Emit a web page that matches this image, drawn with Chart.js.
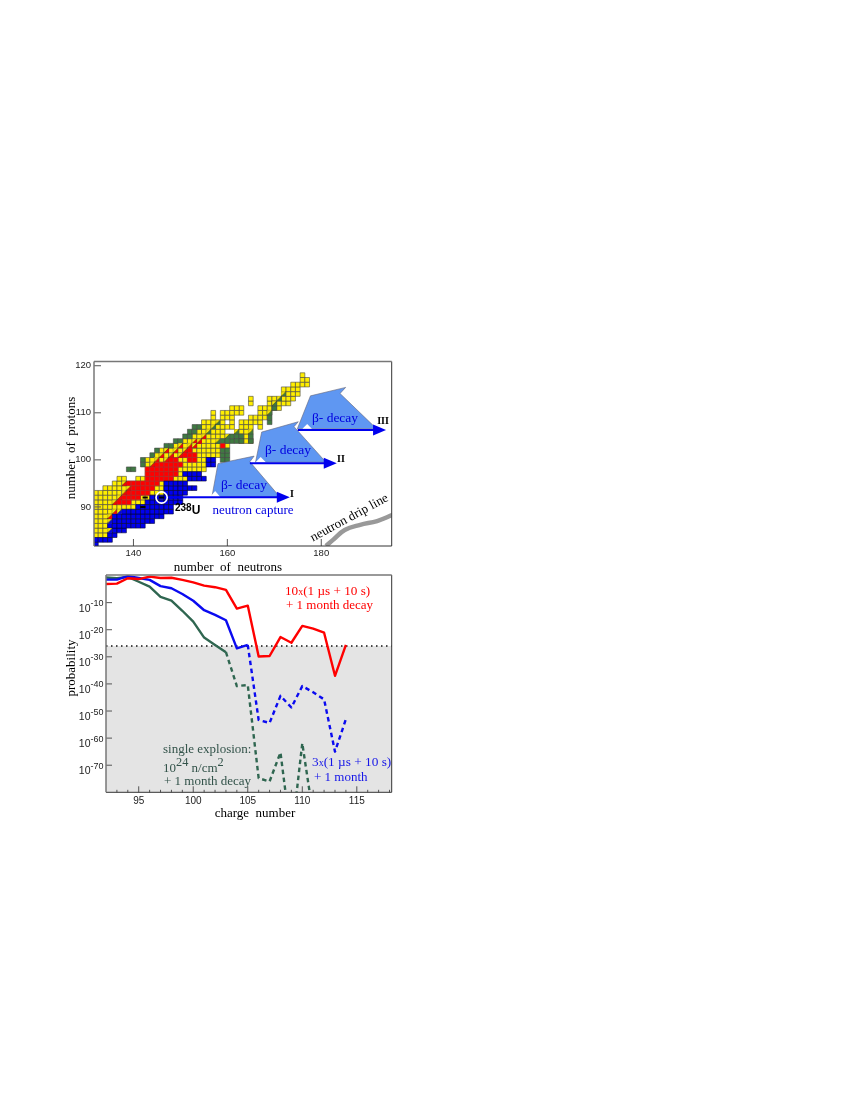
<!DOCTYPE html>
<html lang="en">
<head>
<meta charset="UTF-8">
<title>Nuclide chart and probability</title>
<script src="https://cdn.jsdelivr.net/npm/chart.js"></script>
<style>
    body { margin: 0; background: #fff; width: 850px; height: 1100px; position: relative; overflow: hidden; }
    canvas { position: absolute; }
    .t { position: absolute; font-family: "Liberation Serif", serif; white-space: nowrap; line-height: 1; }
    .t sup { font-size: 0.95em; line-height: 0; vertical-align: 0.45em; }
</style>
</head>
<body>
<canvas id="nuclides" width="370" height="220" style="left:40px;top:350px"></canvas>
<canvas id="probability" width="350" height="250" style="left:60px;top:565px"></canvas>

<span class="t" style="left:70px;top:448px;font-size:13px;transform:translate(-50%,-50%) rotate(-90deg)">number&nbsp; of&nbsp; protons</span>
<span class="t" style="left:228px;top:566px;font-size:13px;transform:translate(-50%,-50%)">number&nbsp; of&nbsp; neutrons</span>
<span class="t" style="left:244px;top:485px;font-size:13.5px;color:#0000e0;transform:translate(-50%,-50%)">β- decay</span>
<span class="t" style="left:288px;top:450px;font-size:13.5px;color:#0000e0;transform:translate(-50%,-50%)">β- decay</span>
<span class="t" style="left:335px;top:418px;font-size:13.5px;color:#0000e0;transform:translate(-50%,-50%)">β- decay</span>
<span class="t" style="left:253px;top:509px;font-size:13px;color:#0000e0;transform:translate(-50%,-50%)">neutron capture</span>
<span class="t" style="left:292px;top:494px;font-size:10px;font-weight:bold;transform:translate(-50%,-50%)">I</span>
<span class="t" style="left:341px;top:459px;font-size:10px;font-weight:bold;transform:translate(-50%,-50%)">II</span>
<span class="t" style="left:383px;top:421px;font-size:10px;font-weight:bold;transform:translate(-50%,-50%)">III</span>
<span class="t" style="left:175px;top:501px;font-family:'Liberation Sans';font-size:10px;font-weight:bold">238<span style="font-size:12px;position:relative;top:3px">U</span></span>
<span class="t" style="left:349px;top:517px;font-size:13px;transform:translate(-50%,-50%) rotate(-28.6deg)">neutron drip line</span>

<span class="t" style="left:70px;top:668px;font-size:13px;transform:translate(-50%,-50%) rotate(-90deg)">probability</span>
<span class="t" style="left:255px;top:812px;font-size:13px;transform:translate(-50%,-50%)">charge&nbsp; number</span>
<span class="t" style="left:285px;top:584px;font-size:13.2px;color:#f00">10<span style="font-size:10px">x</span>(1 µs + 10 s)</span>
<span class="t" style="left:286px;top:598px;font-size:13px;color:#f00">+ 1 month decay</span>
<span class="t" style="left:312px;top:755px;font-size:13.3px;color:#1515e8">3<span style="font-size:10px">x</span>(1 µs + 10 s)</span>
<span class="t" style="left:314px;top:770px;font-size:13px;color:#1515e8">+ 1 month</span>
<span class="t" style="left:163px;top:742px;font-size:13px;color:#33534a">single explosion:</span>
<span class="t" style="left:163px;top:761px;font-size:13px;color:#33534a">10<sup>24</sup> n/cm<sup>2</sup></span>
<span class="t" style="left:164px;top:774px;font-size:13px;color:#33534a">+ 1 month decay</span>

<script>
// nuclide map, each row is [protons, first neutron number, last neutron number]
const yellowRows = [
    [84,132,134],[85,132,135],[86,132,134],[87,132,134],[88,132,135],[89,132,137],[90,132,140],
    [91,132,142],[92,132,144],[93,132,146],[94,134,147],[95,136,146],[96,137,138],[96,141,151],
    [97,143,150],[98,143,155],[99,143,155],[100,143,156],[101,145,158],[102,146,158],[103,149,160],
    [104,151,158],[105,153,160],[106,154,159],[107,155,161],[108,155,159],[108,161,161],[109,157,157],
    [109,159,161],[110,157,157],[110,159,161],[110,163,163],[111,161,161],[111,163,163],
    [104,163,165],[105,164,164],[106,163,165],[107,163,165],[107,167,167],[108,163,167],[109,165,168],
    [110,167,169],[111,167,171],[110,162,162],[111,162,162],[112,165,165],[113,165,165],[112,169,173],
    [113,169,174],[114,172,175],[115,172,175],[116,174,177],[117,176,177],[118,176,176]
];
const greenRows = [
    [98,139,140],[99,142,142],[100,142,142],[101,144,144],[102,145,145],[103,147,148],[104,149,150],[105,151,152],
    [106,152,153],[107,153,154],[100,159,160],[101,159,160],[102,159,160],[104,159,161],[105,161,163],
    [104,162,163],[104,165,165],[105,165,165],[108,169,169],[109,169,169],[110,169,169],[111,170,170],
    [112,170,170]
];
const redRows = [
    [91,137,139],[92,138,141],[93,139,143],[94,140,144],[95,139,145],[96,143,148],
    [97,143,149],[98,143,149],[99,145,150],[100,147,149],[100,152,153],[101,151,153],[102,152,152],[103,159,159]
];
const blueRows = [
    [82,132,132],[83,132,135],[84,135,136],[85,136,138],[86,135,142],[87,135,144],[88,136,146],
    [89,138,148],[90,141,148],[91,143,150],[92,144,150],[93,147,151],[94,147,153],[95,147,151],
    [96,152,155],[97,151,154],[99,156,157],[100,156,157]
];
const yellowRedCells = [
    [135,88],[136,89],[136,91],[137,92],[138,93],[139,94],[138,95],
    [144,99],[145,100],[146,101],[147,102],[147,100],[148,101],[149,102],[150,103],
    [150,101],[151,102],[152,103],[153,104],[153,103],[154,104],[155,105]
];
const yellowGreenCells = [
    [156,106],[157,107],[158,108],[158,104],[160,105],[162,106],[170,112],[171,113],[172,114],[169,110],[165,106]
];
const yellowBlueCells = [[135,85],[135,87],[137,89]];
const blackCells = [[142.5,92],[142,90],[146,92]];

const neutronTicks = [140, 160, 180];
const protonTicks = [90, 100, 110, 120];
const dripLineN = [181, 182.5, 185, 188.3, 191.9, 195.2];
const dripLineZ = [81.7, 83, 85.1, 86.2, 87, 88.3];

// beta decay shapes and neutron capture arrows, in neutron/proton units
const decayShapes = [
    [[156.7,92.1],[158.0,99.2],[165.7,100.8],[164.8,99.6],[171.2,92.1]],
    [[166,99.5],[167.3,105.9],[175.1,108.1],[174.2,107.05],[181,99.5]],
    [[174.9,106.6],[177.7,113.6],[185.2,115.4],[184,114.1],[191.8,106.6]]
];
const whiteNotches = [
    [[156.3,92.1],[157.4,93.4],[158.5,92.1]],
    [[166,99.5],[167.1,100.6],[168.2,99.5]],
    [[176,106.6],[177,107.6],[178,106.6]]
];
const captureArrows = [[147.4,173.3,92.05],[164.8,183.3,99.3],[175,193.8,106.35]];
const uraniumCell = [146, 92];

// probability panel, values are log10 of the probability
const charge = [92,93,94,95,96,97,98,99,100,101,102,103,104,105,106,107,108,109,110,111,112,113,114];
const redLog = [-3.1,-3,-1,-1.3,-0.4,-0.9,-0.8,-1.6,-2.5,-3.7,-4.3,-5.3,-12.2,-11.1,-29.9,-29.7,-22.7,-24.8,-18.6,-19.6,-21.1,-37,-25.6];
const blueLog = [-1.5,-1.5,-0.2,-0.9,-1.6,-3.9,-4.7,-6.8,-9.3,-12.8,-14.5,-16.5,-26.9,-25.6,-53.3,-54.4,-44.4,-48.7,-40.8,-43.1,-45.7,-65,-53];
const greenLog = [-0.7,-1,-0.5,-2.3,-4.1,-7.9,-9.3,-13,-17,-22.9,-25.6,-28.3,-40.8,-40.4,-74.8,-76,-65.3,-97,-61.9,-88.6];
const thresholdLog = -26;
const blueDashFrom = 105;
const greenDashFrom = 103;
const chargeTicks = [95, 100, 105, 110, 115];
const chargeMinorTicks = [93,94,96,97,98,99,101,102,103,104,106,107,108,109,111,112,113,114,116,117,118];
const logTicks = [-10,-20,-30,-40,-50,-60,-70];

const CELL = 4.7;
const YELLOW = '#ffee00', RED = '#ff0000', BLUE = '#0000ee', GREEN = '#3f7a42';

function cellsFrom(rows) {
    const out = [];
    rows.forEach(r => { for (let n = r[1]; n <= r[2]; n++) out.push({ x: n, y: r[0] }); });
    return out;
}

function squares(rows, color, edge, order) {
    return {
        type: 'scatter', order, data: cellsFrom(rows), pointStyle: 'rect', pointRadius: CELL / Math.SQRT2,
        pointHoverRadius: CELL / Math.SQRT2, backgroundColor: color, borderColor: edge, pointBorderWidth: 0.6
    };
}

// cell cut by a "/" diagonal, used as a point image
function splitCell(upper, lower) {
    const c = document.createElement('canvas');
    c.width = 5; c.height = 5;
    const g = c.getContext('2d');
    g.fillStyle = upper; g.fillRect(0, 0, 5, 5);
    g.fillStyle = lower;
    g.beginPath(); g.moveTo(5, 0); g.lineTo(5, 5); g.lineTo(0, 5); g.closePath(); g.fill();
    g.strokeStyle = '#444'; g.lineWidth = 0.5;
    g.strokeRect(0, 0, 5, 5);
    g.strokeStyle = '#222';
    g.beginPath(); g.moveTo(0, 5); g.lineTo(5, 0); g.stroke();
    return c;
}

function splits(cells, upper, lower) {
    return {
        type: 'scatter', order: 2, data: cells.map(c => ({ x: c[0], y: c[1] })),
        pointStyle: splitCell(upper, lower), pointRadius: 3
    };
}

function drawFrame(chart, major, minor, majorLen, minorLen) {
    const { ctx, chartArea: a, scales } = chart;
    ctx.save();
    ctx.strokeStyle = '#555';
    ctx.lineWidth = 1;
    major.x.forEach(v => { const p = scales.x.getPixelForValue(v); line(ctx, p, a.bottom, p, a.bottom - majorLen); });
    major.y.forEach(v => { const p = scales.y.getPixelForValue(v); line(ctx, a.left, p, a.left + majorLen, p); });
    minor.forEach(v => { const p = scales.x.getPixelForValue(v); line(ctx, p, a.bottom, p, a.bottom - minorLen); });
    ctx.strokeStyle = '#333';
    line(ctx, a.right, a.top, a.right, a.bottom);
    line(ctx, a.left, a.bottom, a.right, a.bottom);
    ctx.strokeStyle = '#777';
    ctx.lineWidth = 1.5;
    line(ctx, a.left, a.bottom, a.left, a.top);
    line(ctx, a.left, a.top, a.right, a.top);
    ctx.restore();
}

function line(ctx, x1, y1, x2, y2) {
    ctx.beginPath(); ctx.moveTo(x1, y1); ctx.lineTo(x2, y2); ctx.stroke();
}

function polygon(ctx, chart, pts) {
    ctx.beginPath();
    pts.forEach((p, i) => {
        const x = chart.scales.x.getPixelForValue(p[0]), y = chart.scales.y.getPixelForValue(p[1]);
        if (i) ctx.lineTo(x, y); else ctx.moveTo(x, y);
    });
    ctx.closePath();
}

const nuclideOverlay = {
    id: 'nuclideOverlay',
    afterDatasetsDraw(chart) {
        const { ctx, scales } = chart;
        ctx.save();
        decayShapes.forEach(s => {
            polygon(ctx, chart, s);
            ctx.fillStyle = '#5f97f2'; ctx.fill();
            ctx.strokeStyle = '#667'; ctx.lineWidth = 0.6; ctx.stroke();
        });
        whiteNotches.forEach(s => { polygon(ctx, chart, s); ctx.fillStyle = '#fff'; ctx.fill(); });
        captureArrows.forEach(a => {
            const x1 = scales.x.getPixelForValue(a[0]), x2 = scales.x.getPixelForValue(a[1]), y = scales.y.getPixelForValue(a[2]);
            ctx.strokeStyle = '#0000ee'; ctx.lineWidth = 2;
            line(ctx, x1, y, x2 - 10, y);
            ctx.fillStyle = '#0000ee';
            ctx.beginPath(); ctx.moveTo(x2, y); ctx.lineTo(x2 - 13, y - 5.5); ctx.lineTo(x2 - 13, y + 5.5); ctx.closePath(); ctx.fill();
        });
        // ring round 238U
        ctx.strokeStyle = '#fff'; ctx.lineWidth = 1.6;
        ctx.beginPath();
        ctx.arc(scales.x.getPixelForValue(uraniumCell[0]), scales.y.getPixelForValue(uraniumCell[1]), 5.6, 0, Math.PI * 2);
        ctx.stroke();
        ctx.restore();
    },
    afterDraw(chart) {
        drawFrame(chart, { x: neutronTicks, y: protonTicks }, [], 7, 0);
    }
};

const probabilityOverlay = {
    id: 'probabilityOverlay',
    afterDraw(chart) {
        const { ctx, scales } = chart;
        drawFrame(chart, { x: chargeTicks, y: logTicks }, chargeMinorTicks, 6, 2.5);
        // tick labels with a raised exponent
        ctx.save();
        ctx.fillStyle = '#222';
        ctx.textBaseline = 'alphabetic';
        ctx.textAlign = 'right';
        logTicks.forEach(v => {
            const y = scales.y.getPixelForValue(v);
            ctx.font = '9px "Liberation Sans"';
            ctx.fillText(String(v), 43.5, y + 3.5);
            const w = ctx.measureText(String(v)).width;
            ctx.font = '10.5px "Liberation Sans"';
            ctx.fillText('10', 43.5 - w, y + 9);
        });
        ctx.restore();
    }
};

new Chart(document.getElementById('nuclides'), {
    data: {
        datasets: [
            { type: 'line', order: 0, data: dripLineN.map((n, i) => ({ x: n, y: dripLineZ[i] })), borderColor: '#999', borderWidth: 4.5, tension: 0.4, pointRadius: 0 },
            squares(yellowRows, YELLOW, '#444', 6),
            squares(greenRows, GREEN, '#444', 5),
            squares(redRows, RED, '#a33', 4),
            squares(blueRows, BLUE, '#003', 3),
            splits(yellowRedCells, YELLOW, RED),
            splits(yellowGreenCells, YELLOW, GREEN),
            splits(yellowBlueCells, YELLOW, BLUE),
            { type: 'scatter', order: 1, data: blackCells.map(c => ({ x: c[0], y: c[1] })), pointStyle: 'line', pointRadius: 2.6, borderColor: '#000', pointBorderWidth: 2 }
        ]
    },
    options: {
        responsive: false, animation: false, events: [],
        layout: { padding: { left: 0, top: 11.5, right: 18.3, bottom: 0 } },
        plugins: { legend: { display: false }, tooltip: { enabled: false } },
        scales: {
            x: {
                type: 'linear', min: 131.6, max: 195, afterFit: s => { s.height = 24; },
                grid: { display: false, drawTicks: false }, border: { display: false },
                afterBuildTicks: s => { s.ticks = neutronTicks.map(v => ({ value: v })); },
                ticks: { color: '#222', font: { family: 'Liberation Sans', size: 9.5 }, padding: 2, maxRotation: 0 }
            },
            y: {
                type: 'linear', min: 81.7, max: 120.9, afterFit: s => { s.width = 54; },
                grid: { display: false, drawTicks: false }, border: { display: false },
                afterBuildTicks: s => { s.ticks = protonTicks.map(v => ({ value: v })); },
                ticks: { color: '#222', font: { family: 'Liberation Sans', size: 9.5 }, padding: 3 }
            }
        }
    },
    plugins: [nuclideOverlay]
});

function dashedAfter(from) {
    return { borderDash: c => (c.p0.parsed.x >= from ? [4.5, 3.5] : undefined) };
}

function curve(values, color, dashFrom) {
    const set = { type: 'line', data: values.map((v, i) => ({ x: charge[i], y: v })), borderColor: color, borderWidth: 2.4, borderJoinStyle: 'round', pointRadius: 0, tension: 0 };
    if (dashFrom) set.segment = dashedAfter(dashFrom);
    return set;
}

new Chart(document.getElementById('probability'), {
    data: {
        datasets: [
            curve(redLog, '#ff0000'),
            curve(blueLog, '#0a0af0', blueDashFrom),
            curve(greenLog, '#2f6650', greenDashFrom),
            { type: 'line', data: [{ x: 92, y: thresholdLog }, { x: 118.2, y: thresholdLog }], borderColor: '#111', borderWidth: 1.5, borderDash: [1.5, 3.5], pointRadius: 0, fill: 'start', backgroundColor: '#e4e4e4', order: 5 }
        ]
    },
    options: {
        responsive: false, animation: false, events: [],
        layout: { padding: { left: 0, top: 10, right: 18.3, bottom: 0 } },
        plugins: { legend: { display: false }, tooltip: { enabled: false } },
        scales: {
            x: {
                type: 'linear', min: 92, max: 118.2, afterFit: s => { s.height = 22.7; },
                grid: { display: false, drawTicks: false }, border: { display: false },
                afterBuildTicks: s => { s.ticks = chargeTicks.map(v => ({ value: v })); },
                ticks: { color: '#222', font: { family: 'Liberation Sans', size: 10 }, padding: 3, maxRotation: 0 }
            },
            y: {
                type: 'linear', min: -80, max: 0.2, afterFit: s => { s.width = 46; },
                grid: { display: false, drawTicks: false }, border: { display: false },
                ticks: { display: false }
            }
        }
    },
    plugins: [probabilityOverlay]
});
</script>
</body>
</html>
